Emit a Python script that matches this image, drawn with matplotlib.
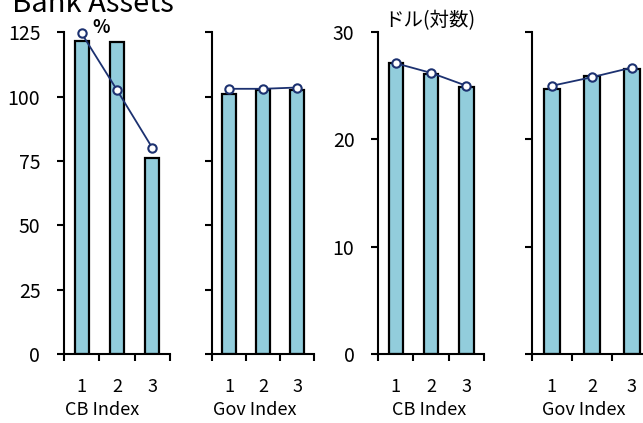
import matplotlib.pyplot as plt
import numpy as np

plt.rcParams['font.family'] = ['Noto Sans CJK JP', 'DejaVu Sans']

# data
index_pos = [1, 2, 3]
index_labels = ["1", "2", "3"]

pct_cb_bars = [121.5, 121.0, 76.0]
pct_cb_line = [124.5, 102.5, 80.0]
pct_gov_bars = [101.0, 102.5, 102.5]
pct_gov_line = [103.0, 103.0, 103.5]

log_cb_bars = [27.1, 26.1, 24.9]
log_cb_line = [27.1, 26.2, 25.0]
log_gov_bars = [24.7, 25.9, 26.6]
log_gov_line = [25.0, 25.8, 26.7]

bar_color = "#92cddc"
line_color = "#1c3170"

fig = plt.figure(figsize=(6.43, 4.23), dpi=100)

panels = [
    # left, width, bars, line, ylim, yticks, show labels, xlabel, xlabel x
    (0.0995, 0.165, pct_cb_bars, pct_cb_line, 125, [0, 25, 50, 75, 100, 125], True, "CB Index", 0.36),
    (0.3297, 0.159, pct_gov_bars, pct_gov_line, 125, [0, 25, 50, 75, 100, 125], False, "Gov Index", 0.42),
    (0.588, 0.165, log_cb_bars, log_cb_line, 30, [0, 10, 20, 30], True, "CB Index", 0.48),
    (0.827, 0.187, log_gov_bars, log_gov_line, 30, [0, 10, 20, 30], False, "Gov Index", 0.43),
]

axes = []
for left, width, bars, line, ytop, yt, show, xlab, xlab_x in panels:
    ax = fig.add_axes([left, 0.163, width, 0.761])
    ax.bar(index_pos, bars, width=0.4, color=bar_color, edgecolor="black", linewidth=1.6, zorder=2)
    ax.plot(index_pos, line, color=line_color, linewidth=1.3, marker="o", markersize=6,
            markerfacecolor="white", markeredgecolor=line_color, markeredgewidth=1.5, zorder=3,
            clip_on=False)
    ax.set_xlim(0.5, 3.5)
    ax.set_ylim(0, ytop)
    ax.set_yticks(yt)
    if show:
        ax.set_yticklabels([str(v) for v in yt], fontsize=14)
    else:
        ax.set_yticklabels([])
    ax.set_xticks([0.5, 1.5, 2.5, 3.5])
    ax.set_xticklabels([])
    ax.set_xticks(index_pos, minor=True)
    ax.set_xticklabels(index_labels, minor=True, fontsize=13)
    ax.tick_params(axis="x", which="minor", length=0, pad=17)
    ax.tick_params(axis="both", which="major", direction="out", length=5, width=1.5)
    ax.tick_params(axis="y", pad=12)
    ax.set_xlabel(xlab, fontsize=13)
    ax.xaxis.set_label_coords(xlab_x, -0.175)
    ax.xaxis.label.set_verticalalignment("center")
    for s in ["top", "right"]:
        ax.spines[s].set_visible(False)
    for s in ["left", "bottom"]:
        ax.spines[s].set_linewidth(1.5)
    axes.append(ax)

axes[0].text(0.35, 1.015, "%", transform=axes[0].transAxes, fontsize=13, fontweight="bold",
             ha="center", va="center")
axes[2].text(0.06, 1.035, "ドル(対数)", transform=axes[2].transAxes, fontsize=14,
             ha="left", va="center")

fig.text(12 / 643, 1 - 12 / 423, "Bank Assets", fontsize=21, ha="left", va="baseline")

fig.savefig("out.png", dpi=100)
